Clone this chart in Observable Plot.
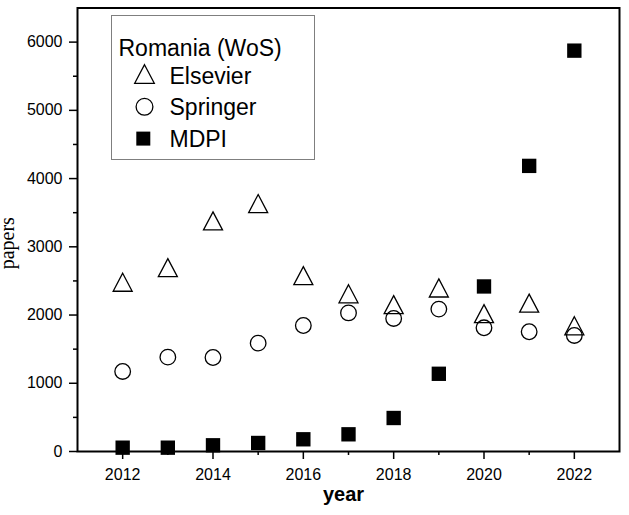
<!DOCTYPE html>
<html><head><meta charset="utf-8">
<script src="https://cdn.jsdelivr.net/npm/d3@7"></script>
<script src="https://cdn.jsdelivr.net/npm/@observablehq/plot@0.6"></script>
<style>
body{margin:0;background:#fff;}
#wrap{width:629px;height:515px;}
</style></head><body><div id="wrap"></div>
<script>
const years = [2012, 2013, 2014, 2015, 2016, 2017, 2018, 2019, 2020, 2021, 2022];
const elsevier = [2481, 2695, 3380, 3634, 2578, 2312, 2152, 2397, 2021, 2175, 1843];
const springer = [1173, 1383, 1378, 1588, 1847, 2031, 1950, 2087, 1813, 1755, 1701];
const mdpi = [56, 56, 91, 125, 179, 252, 491, 1139, 2419, 4186, 5875];
const xTicks = [2012, 2014, 2016, 2018, 2020, 2022];
const xMinorTicks = [2013, 2015, 2017, 2019, 2021];
const yTicks = [0, 1000, 2000, 3000, 4000, 5000, 6000];
const yMinorTicks = [500, 1500, 2500, 3500, 4500, 5500];
const xLabel = "year";
const yLabel = "papers";
const legendTitle = "Romania (WoS)";
const seriesNames = ["Elsevier", "Springer", "MDPI"];

const rows = vals => years.map((y, i) => ({year: y, value: vals[i]}));

const triangle = {
  draw(ctx, size) {
    const r = Math.sqrt(size / Math.PI);
    const h = r * 0.95;
    ctx.moveTo(0, -h);
    ctx.lineTo(r, h);
    ctx.lineTo(-r, h);
    ctx.closePath();
  }
};

const sans = "Liberation Sans, Arial, sans-serif";
const serif = "Liberation Serif, Times New Roman, serif";

const seriesStyles = [
  {symbol: triangle, r: 9.5, stroke: "#000", strokeWidth: 1.3, fill: "none", lr: 9.8},
  {symbol: "circle", r: 7.8, stroke: "#000", strokeWidth: 1.3, fill: "none", lr: 8.4},
  {symbol: "square", r: 8.1, stroke: "none", fill: "#000", lr: 7.9}
];
const seriesData = [elsevier, springer, mdpi];

const legendMarks = [
  Plot.frame({stroke: "#7f7f7f", strokeWidth: 1, insetLeft: 34, insetTop: 7.5, insetRight: 305, insetBottom: 292}),
  Plot.text([legendTitle], {frameAnchor: "top-left", textAnchor: "start", lineAnchor: "middle", dx: 41, dy: 40.8, fontSize: 23, fontFamily: sans, fill: "#000"})
];
seriesNames.forEach((name, i) => {
  const s = seriesStyles[i];
  legendMarks.push(
    Plot.dot([name], {frameAnchor: "top-left", dx: 67 - (i === 2 ? 1.2 : 0), dy: 66 + i * 32.8 - (i === 2 ? 1 : 0), symbol: s.symbol, r: s.lr, stroke: s.stroke, strokeWidth: s.strokeWidth, fill: s.fill}),
    Plot.text([name], {frameAnchor: "top-left", textAnchor: "start", lineAnchor: "middle", dx: 92, dy: 68.4 + i * 31.7, fontSize: 23, fontFamily: sans, fill: "#000"})
  );
});

const chart = Plot.plot({
  width: 629,
  height: 515,
  marginLeft: 77,
  marginRight: 10,
  marginTop: 7.5,
  marginBottom: 64,
  x: {domain: [2011, 2023]},
  y: {domain: [0, 6500]},
  style: {fontFamily: sans, fontSize: "16px", color: "#000", background: "#fff", overflow: "visible"},
  marks: [
    Plot.axisX(xTicks, {tickSize: 8, tickPadding: 9, tickFormat: d => String(d), label: null, strokeWidth: 1.5, fontSize: 16}),
    Plot.axisX(xMinorTicks, {tickSize: 4, tickFormat: () => "", label: null, strokeWidth: 1.5}),
    Plot.axisY(yTicks, {tickSize: 8, tickPadding: 7, tickFormat: d => String(d), label: null, strokeWidth: 1.5, fontSize: 16}),
    Plot.axisY(yMinorTicks, {tickSize: 4, tickFormat: () => "", label: null, strokeWidth: 1.5}),
    ...seriesData.map((vals, i) => {
      const s = seriesStyles[i];
      return Plot.dot(rows(vals), {x: "year", y: "value", symbol: s.symbol, r: s.r, stroke: s.stroke, strokeWidth: s.strokeWidth, fill: s.fill});
    }),
    Plot.frame({stroke: "#000", strokeWidth: 2}),
    ...legendMarks,
    Plot.text([xLabel], {frameAnchor: "bottom", textAnchor: "middle", lineAnchor: "middle", dx: -5, dy: 43, fontWeight: "bold", fontSize: 20, fontFamily: sans, fill: "#000"}),
    Plot.text([yLabel], {frameAnchor: "left", textAnchor: "middle", lineAnchor: "middle", dx: -69.5, dy: 13.5, rotate: -90, fontSize: 20, fontFamily: serif, fill: "#000"})
  ]
});
document.getElementById("wrap").appendChild(chart);
</script>
</body></html>
